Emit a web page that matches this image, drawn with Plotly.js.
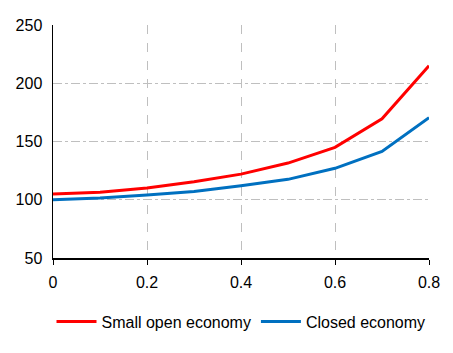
<!DOCTYPE html>
<html><head><meta charset="utf-8">
<script src="https://cdn.plot.ly/plotly-3.0.1.min.js"></script>
<style>html,body{margin:0;padding:0;background:#fff}#c{width:453px;height:353px}</style>
</head><body><div id="c"></div>
<script>
const xVals = [0, 0.1, 0.2, 0.3, 0.4, 0.5, 0.6, 0.7, 0.8];
const smallOpen = [105, 106.5, 110, 115.5, 122, 131.5, 145, 169.5, 215];
const closedEcon = [100, 101.5, 104, 107, 112, 117.5, 127, 141.5, 170.5];
const seriesNames = ["Small open economy", "Closed economy"];

const fontFam = "Liberation Sans, Arial, sans-serif";
const traces = [
  {x: xVals, y: smallOpen, name: seriesNames[0], mode: "lines", line: {color: "#ff0000", width: 3}},
  {x: xVals, y: closedEcon, name: seriesNames[1], mode: "lines", line: {color: "#0070c0", width: 3}}
];
const layout = {
  width: 453, height: 353,
  margin: {l: 53, r: 24, t: 25, b: 95},
  paper_bgcolor: "#fff", plot_bgcolor: "#fff",
  font: {family: fontFam, size: 16, color: "#000"},
  showlegend: true,
  legend: {orientation: "h", x: 0.5, xanchor: "center", y: -0.2, yanchor: "top",
           font: {size: 16}, itemwidth: 40, tracegroupgap: 0},
  xaxis: {range: [0, 0.8], tickvals: [0, 0.2, 0.4, 0.6, 0.8], ticktext: ["0","0.2","0.4","0.6","0.8"],
          showline: true, linecolor: "#000", linewidth: 1.5, ticks: "outside", ticklen: 5, tickcolor: "#000",
          showgrid: true, gridcolor: "#bfbfbf", griddash: "dash", gridwidth: 1, zeroline: false,
          fixedrange: true, ticklabelstandoff: 4},
  yaxis: {range: [50, 250], tickvals: [50, 100, 150, 200, 250],
          showline: true, linecolor: "#000", linewidth: 1.5, ticks: "",
          showgrid: true, gridcolor: "#bfbfbf", griddash: "dashdot", gridwidth: 1, zeroline: false,
          fixedrange: true, ticklabelstandoff: 6}
};
Plotly.newPlot("c", traces, layout, {displayModeBar: false, staticPlot: true});
</script>
</body></html>
